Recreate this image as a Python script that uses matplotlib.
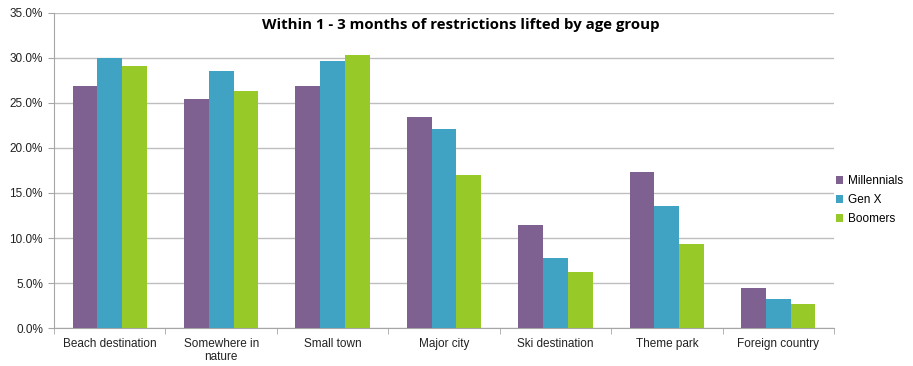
import numpy as np
import matplotlib
matplotlib.use("Agg")
from matplotlib import pyplot as plt
from matplotlib.ticker import FuncFormatter, FixedLocator

categories = ["Beach destination", "Somewhere in\nnature", "Small town", "Major city",
              "Ski destination", "Theme park", "Foreign country"]
millennials = [26.8, 25.4, 26.9, 23.4, 11.4, 17.3, 4.5]
gen_x = [30.0, 28.5, 29.6, 22.1, 7.8, 13.6, 3.3]
boomers = [29.1, 26.3, 30.3, 17.0, 6.2, 9.3, 2.7]
series_names = ["Millennials", "Gen X", "Boomers"]
colors = ["#7E6191", "#41A3C3", "#97C928"]

fig = plt.figure(figsize=(9.13, 3.66), dpi=100)
ax = fig.add_axes([54 / 913, 1 - 328.3 / 366, 780 / 913, 315.8 / 366])

x = np.arange(len(categories))
w = 1 / 4.5
handles = []
for i, (vals, name) in enumerate(zip([millennials, gen_x, boomers], series_names)):
    b = ax.bar(x + (i - 1) * w, vals, w, color=colors[i], label=name, zorder=3)
    handles.append(b)

ax.set_xlim(-0.5, len(categories) - 0.5)
ax.set_ylim(0, 35)
ax.set_yticks(np.arange(0, 36, 5))
ax.yaxis.set_major_formatter(FuncFormatter(lambda v, p: f"{v:.1f}%"))
ax.grid(axis="y", color="#BEBEBE", linewidth=1, zorder=0)

# category labels centered, tick marks at group boundaries
ax.set_xticks(x)
ax.set_xticklabels(categories, fontsize=8.5, family="Liberation Sans", color="#222222",
                   linespacing=1.1)
ax.tick_params(axis="x", which="major", length=0, pad=7)
ax.xaxis.set_minor_locator(FixedLocator(np.arange(-0.5, len(categories), 1)))
ax.tick_params(axis="x", which="minor", length=4, color="#A6A6A6")
ax.tick_params(axis="y", length=4, color="#A6A6A6", labelsize=8.5, pad=4, labelcolor="#222222")
for lab in ax.get_yticklabels():
    lab.set_family("Liberation Sans")

for s in ["top", "right"]:
    ax.spines[s].set_visible(False)
for s in ["left", "bottom"]:
    ax.spines[s].set_color("#A6A6A6")

fig.text(461 / 913, 1 - 25 / 366, "Within 1 - 3 months of restrictions lifted by age group",
         ha="center", va="center", fontsize=10.8, fontweight="bold", family="Open Sans")

fig.legend(handles=handles, labels=series_names, loc="center left",
           bbox_to_anchor=(834 / 913, 1 - 200 / 366), frameon=False,
           prop={"family": "Liberation Sans", "size": 8.5},
           handlelength=0.6, handleheight=0.6, handletextpad=0.4, labelspacing=0.6,
           borderaxespad=0, borderpad=0.2)

fig.savefig("out.png", dpi=100)
